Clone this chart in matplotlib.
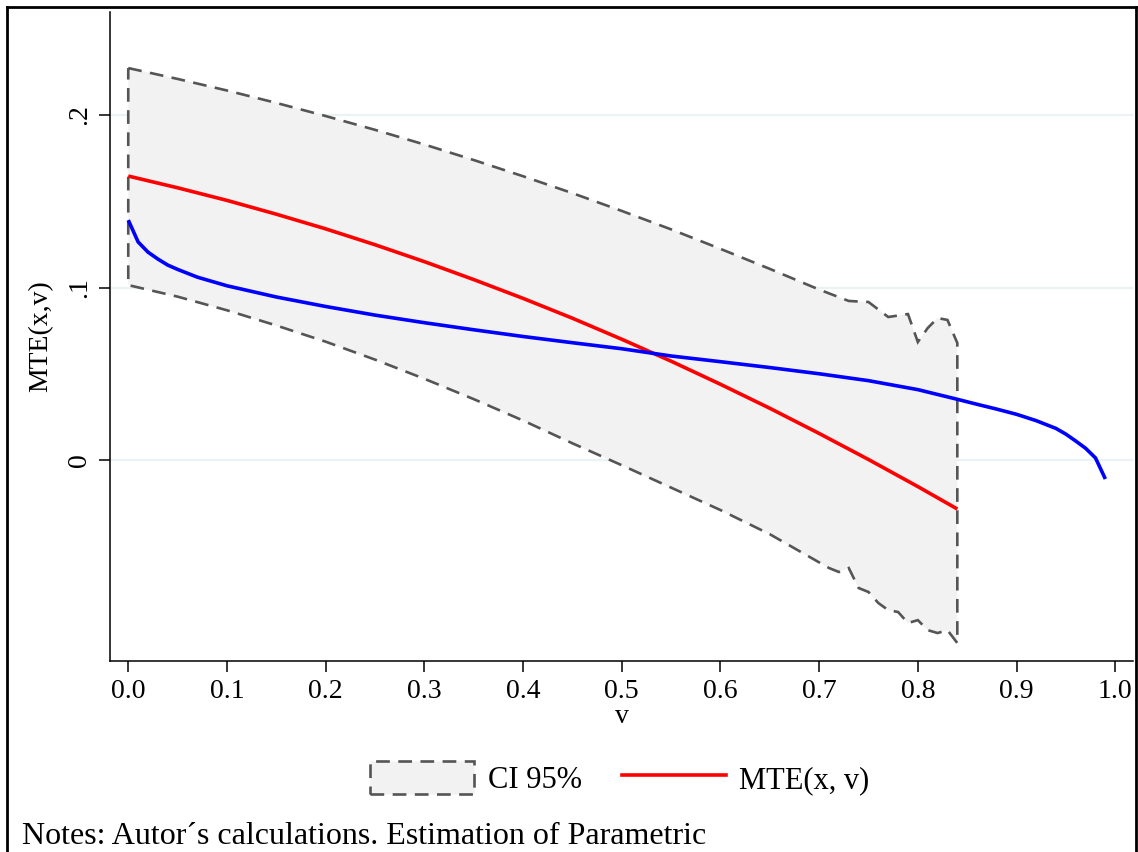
import matplotlib
matplotlib.use("Agg")
import matplotlib.pyplot as plt
from matplotlib.lines import Line2D
from matplotlib.patches import Patch

plt.rcParams['font.family'] = ['Liberation Serif', 'DejaVu Serif']

# ---- data ----
v_red = [0.00, 0.05, 0.10, 0.15, 0.20, 0.25, 0.30, 0.35, 0.40, 0.45,
         0.50, 0.55, 0.60, 0.65, 0.70, 0.75, 0.80, 0.84]
mte_red = [0.1646, 0.1578, 0.1505, 0.1425, 0.1340, 0.1248, 0.1150, 0.1046, 0.0937, 0.0822,
           0.0700, 0.0573, 0.0439, 0.0300, 0.0154, 0.0003, -0.0154, -0.0284]

v_upper = [0.00, 0.05, 0.10, 0.15, 0.20, 0.25, 0.30, 0.35, 0.40, 0.45, 0.50, 0.55,
           0.60, 0.65, 0.70, 0.73, 0.75, 0.77, 0.79, 0.80, 0.81, 0.82, 0.83, 0.84]
ci_upper = [0.2272, 0.2209, 0.2142, 0.2070, 0.1994, 0.1914, 0.1829, 0.1739, 0.1645, 0.1547,
            0.1444, 0.1337, 0.1224, 0.1108, 0.0988, 0.0922, 0.0916, 0.0829, 0.0846, 0.0684,
            0.0765, 0.0823, 0.0812, 0.0678]

v_lower = [0.00, 0.05, 0.10, 0.15, 0.20, 0.25, 0.30, 0.35, 0.40, 0.45, 0.50, 0.55,
           0.60, 0.65, 0.71, 0.72, 0.73, 0.74, 0.75, 0.76, 0.77, 0.78, 0.79, 0.80,
           0.81, 0.82, 0.83, 0.84]
ci_lower = [0.1014, 0.0947, 0.0868, 0.0780, 0.0686, 0.0582, 0.0471, 0.0353, 0.0229, 0.0097,
            -0.0030, -0.0160, -0.0290, -0.0430, -0.0626, -0.0649, -0.0626, -0.0742, -0.0765,
            -0.0829, -0.0870, -0.0881, -0.0945, -0.0928, -0.0986, -0.1003, -0.0986, -0.1061]

v_blue = [0.00, 0.01, 0.02, 0.03, 0.04, 0.05, 0.07, 0.10, 0.15, 0.20, 0.25, 0.30, 0.35,
          0.40, 0.45, 0.50, 0.55, 0.60, 0.65, 0.70, 0.75, 0.80, 0.84, 0.86, 0.88, 0.90,
          0.92, 0.94, 0.95, 0.96, 0.97, 0.98, 0.99]
mte_blue = [0.1391, 0.1264, 0.1205, 0.1165, 0.1130, 0.1105, 0.1060, 0.1010, 0.0945, 0.0890,
            0.0840, 0.0796, 0.0755, 0.0716, 0.0680, 0.0645, 0.0603, 0.0570, 0.0536, 0.0500,
            0.0460, 0.0408, 0.0352, 0.0323, 0.0295, 0.0265, 0.0228, 0.0183, 0.0150, 0.0110,
            0.0068, 0.0012, -0.0110]

x_ticks = [0.0, 0.1, 0.2, 0.3, 0.4, 0.5, 0.6, 0.7, 0.8, 0.9, 1.0]
x_ticklabels = ["0.0", "0.1", "0.2", "0.3", "0.4", "0.5", "0.6", "0.7", "0.8", "0.9", "1.0"]
y_ticks = [0.0, 0.1, 0.2]
y_ticklabels = ["0", ".1", ".2"]

# ---- figure ----
W, H = 1138, 852
fig = plt.figure(figsize=(W / 100, H / 100), dpi=100)
ax = fig.add_axes([110 / W, 1 - 661 / H, (1133 - 110) / W, (661 - 12) / H])

dash = (0, (5.2, 3.2))
dash_col = '#555555'

# CI polygon
poly_x = list(v_upper) + list(v_lower[::-1])
poly_y = list(ci_upper) + list(ci_lower[::-1])
ax.fill(poly_x, poly_y, facecolor='#f2f2f2', edgecolor=dash_col,
        linestyle=dash, linewidth=1.9, zorder=2)

ax.plot(v_red, mte_red, color='#ff0000', linewidth=2.6, zorder=4, solid_capstyle='butt')
ax.plot(v_blue, mte_blue, color='#0000ff', linewidth=2.6, zorder=4, solid_capstyle='butt')

for yv in y_ticks:
    ax.axhline(yv, color='#eaf2f3', linewidth=1.6, zorder=1)

ax.set_xlim(-0.0185, 1.018)
ax.set_ylim(-0.1165, 0.2597)
ax.set_xticks(x_ticks)
ax.set_xticklabels(x_ticklabels)
ax.set_yticks(y_ticks)
ax.set_yticklabels(y_ticklabels, rotation=90, va='center')
ax.tick_params(axis='both', direction='out', length=8, width=1.1, labelsize=20, pad=5)
for s in ['top', 'right']:
    ax.spines[s].set_visible(False)
for s in ['left', 'bottom']:
    ax.spines[s].set_linewidth(1.1)

ax.set_xlabel('v', fontsize=20, labelpad=0)
ax.set_ylabel('MTE(x,v)', fontsize=20, labelpad=10)

handles = [Patch(facecolor='#f2f2f2', edgecolor=dash_col, linestyle=dash,
                 linewidth=1.9, label='CI 95%'),
           Line2D([0], [0], color='#ff0000', linewidth=2.6, label='MTE(x, v)')]
fig.legend(handles=handles, loc='center', bbox_to_anchor=(620 / W, 1 - 778 / H),
           ncol=2, frameon=False, fontsize=22, handlelength=3.4, handleheight=1.3,
           columnspacing=1.3, handletextpad=0.45)

fig.text(22 / W, 1 - 836 / H, 'Notes: Autor´s calculations. Estimation of Parametric',
         fontsize=23, va='center', ha='left', family='Liberation Serif')

# outer border (left, top, right)
lw = 2.0
fig.add_artist(Line2D([7 / W, 7 / W], [0, 1 - 7 / H], color='black', linewidth=lw,
                      transform=fig.transFigure))
fig.add_artist(Line2D([7 / W, 1136 / W], [1 - 7 / H, 1 - 7 / H], color='black', linewidth=lw,
                      transform=fig.transFigure))
fig.add_artist(Line2D([1136 / W, 1136 / W], [0, 1 - 7 / H], color='black', linewidth=lw,
                      transform=fig.transFigure))

fig.savefig('out.png', dpi=100)
